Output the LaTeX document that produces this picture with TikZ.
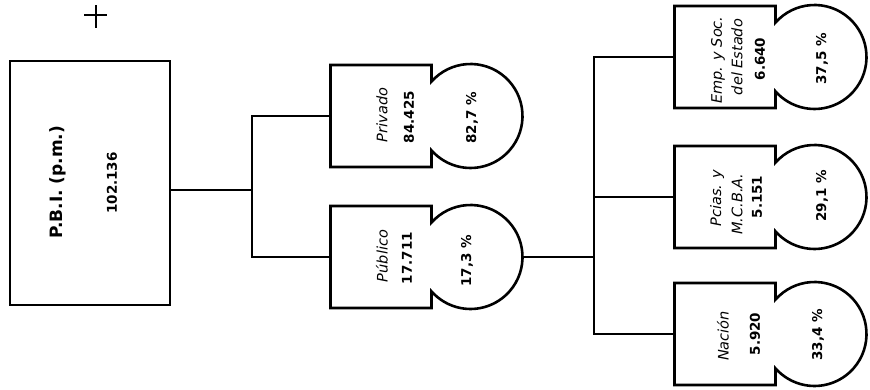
\documentclass[tikz,border=0pt]{standalone}
\usepackage{fontspec}
\setmainfont{DejaVu Sans}
\begin{document}
\begin{tikzpicture}[x=1pt,y=1pt,
  ln/.style={line width=2.6pt, line join=miter},
  nm/.style={rotate=90, inner sep=0pt, font=\fontsize{14.5}{16}\selectfont\itshape},
  vl/.style={rotate=90, inner sep=0pt, font=\fontsize{13.5}{16}\selectfont\bfseries},
  pc/.style={rotate=90, inner sep=0pt, font=\fontsize{13.5}{16}\selectfont\bfseries},
  ttl/.style={rotate=90, inner sep=0pt, font=\fontsize{17}{19}\selectfont\bfseries},
  unit/.pic={
    \node[inner sep=0pt, minimum width=101pt, minimum height=102pt] (-box) at (0,0) {};
    \node[circle, inner sep=0pt, minimum size=104pt] (-circ) at (89.5,0) {};
    \draw[ln] (50.5,34.4) arc[start angle=138.6, end angle=-138.6, radius=52]
      -- (50.5,-51) -- (-50.5,-51) -- (-50.5,51) -- (50.5,51) -- cycle;
  }]
\useasboundingbox (0,0) rectangle (870,-389);

% registration mark
\coordinate (cross) at (96,-15);
\draw[line width=2.2pt] ([xshift=-12pt]cross) -- ([xshift=11pt]cross);
\draw[line width=2.2pt] ([yshift=10pt]cross) -- ([yshift=-13pt]cross);

% main box
\node[draw, ln, inner sep=0pt, minimum width=160pt, minimum height=244pt] (pbi) at (90,-183) {};

% units
\pic (priv) at (381,-116) {unit};
\pic (pub)  at (381,-257) {unit};
\pic (emp)  at (725,-57)  {unit};
\pic (pci)  at (725,-197) {unit};
\pic (nac)  at (725,-334) {unit};

% connectors
\coordinate (j1) at (252,-190);
\draw[ln] (pbi.east |- j1) -- (j1);
\draw[ln] (priv-box.west) -| (j1) |- (pub-box.west);
\coordinate (j2) at (594,-257);
\draw[ln] (pub-circ.east) -- (j2);
\draw[ln] (emp-box.west) -| (j2) |- (nac-box.west);
\draw[ln] (pci-box.west) -- (pci-box.west -| j2);

% labels
\node[ttl] (pbiT) at (58,-182) {P.B.I. (p.m.)};
\node[vl] (pbiV) at (112,-183) {102.136};
\node[nm] (privN) at (382,-115) {Privado};
\node[vl] (privV) at (409,-117) {84.425};
\node[pc] (privP) at (472,-118) {82,7 \%};
\node[nm] (pubN) at (382,-256) {Público};
\node[vl] (pubV) at (407,-258) {17.711};
\node[pc] (pubP) at (467,-261) {17,3 \%};
\node[nm] (empN1) at (718,-60) {Emp. y Soc.};
\node[nm] (empN2) at (737,-57) {del Estado};
\node[vl] (empV) at (760,-59) {6.640};
\node[pc] (empP) at (822,-59) {37,5 \%};
\node[nm] (pciN1) at (717,-198) {Pcias. y};
\node[nm] (pciN2) at (737,-204) {M.C.B.A.};
\node[vl] (pciV) at (757,-197) {5.151};
\node[pc] (pciP) at (822,-196) {29,1 \%};
\node[nm] (nacN) at (723,-336) {Nación};
\node[vl] (nacV) at (755,-334) {5.920};
\node[pc] (nacP) at (818,-335) {33,4 \%};
\end{tikzpicture}
\end{document}
